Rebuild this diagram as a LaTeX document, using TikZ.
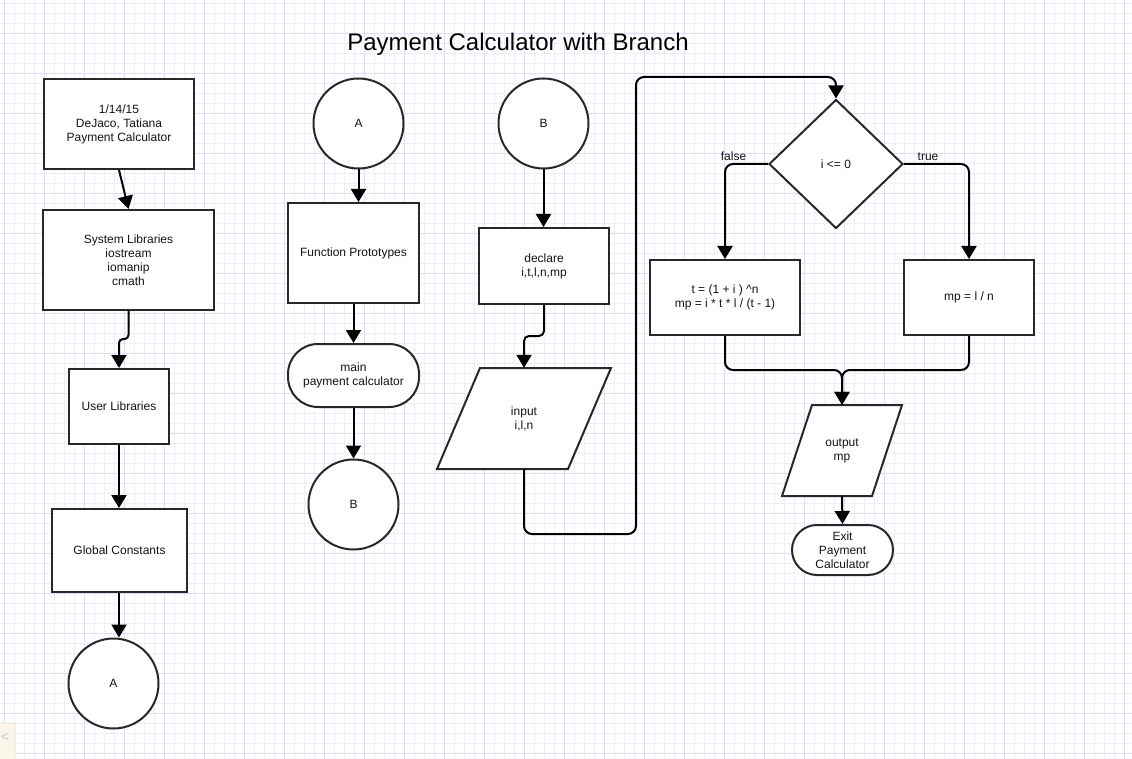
\documentclass[tikz,border=0pt]{standalone}
\usepackage{fontspec}
\setmainfont{Liberation Sans}
\usetikzlibrary{arrows.meta,shapes.geometric}
\definecolor{gridminor}{RGB}{237,237,254}
\definecolor{gridmajor}{RGB}{222,222,251}
\definecolor{shapeline}{RGB}{40,40,40}
\definecolor{txt}{RGB}{20,20,20}
\definecolor{widgetfill}{RGB}{251,246,232}
\definecolor{widgetline}{RGB}{225,220,205}
\definecolor{widgettext}{RGB}{190,190,225}
\tikzset{
  base/.style={draw=shapeline, line width=2pt, fill=white, text=txt, align=center,
    font=\fontsize{12}{14}\selectfont, inner sep=0pt},
  procbox/.style={base, rectangle},
  conn/.style={circle, base},
  term/.style={base, rectangle},
  textonly/.style={text=txt, align=center, font=\fontsize{12}{14}\selectfont, inner sep=0pt},
  flow/.style={draw=black, line width=2pt, rounded corners=6pt, -{Triangle[width=15pt,length=13pt]}},
  minorline/.style={draw=gridminor, line width=0.8pt},
  majorline/.style={draw=gridmajor, line width=0.8pt},
  lbl/.style={text=txt, font=\fontsize{12}{14}\selectfont, inner sep=0pt}
}
\begin{document}
\begin{tikzpicture}[x=1pt,y=-1pt]
\useasboundingbox (0,0) rectangle (1132,759);
\fill[white] (0,0) rectangle (1132,759);
% grid
\foreach \x in {4,14,...,1134} \draw[minorline] (\x,0) -- (\x,759);
\foreach \y in {3,13,...,763} \draw[minorline] (0,\y) -- (1132,\y);
\foreach \x in {4,44,...,1134} \draw[majorline] (\x,0) -- (\x,759);
\foreach \y in {33,73,...,763} \draw[majorline] (0,\y) -- (1132,\y);

% title
\node[text=black, font=\fontsize{24}{28}\selectfont, inner sep=0pt] (title) at (518,44) {Payment Calculator with Branch};

% column 1
\node[procbox, minimum width=150pt, minimum height=90pt] (hdr) at (119,124) {1/14/15\\DeJaco, Tatiana\\Payment Calculator};
\node[procbox, minimum width=171pt, minimum height=100pt] (sys) at (128.5,260) {System Libraries\\iostream\\iomanip\\cmath};
\node[procbox, minimum width=100pt, minimum height=75pt] (usr) at (119,406.5) {User Libraries};
\node[procbox, minimum width=135pt, minimum height=83pt] (glob) at (119.5,550.5) {Global Constants};
\node[conn, minimum size=90pt] (cA1) at (113.5,683.5) {A};

% column 2
\node[conn, minimum size=90pt] (cA2) at (358.5,123.5) {A};
\node[procbox, minimum width=131pt, minimum height=100pt] (fp) at (353.5,253) {Function Prototypes};
\node[term, rounded corners=30pt, minimum width=131pt, minimum height=63pt] (mainT) at (353.5,375.5) {main\\payment calculator};
\node[conn, minimum size=90pt] (cB2) at (353.5,504.5) {B};

% column 3
\node[conn, minimum size=90pt] (cB3) at (543.5,123.5) {B};
\node[procbox, minimum width=130pt, minimum height=76pt] (decl) at (544,266) {declare\\i,t,l,n,mp};
\coordinate (inpC) at (524,418.5);
\draw[draw=shapeline, line width=2pt, fill=white] (480,368) -- (611,368) -- (568,469) -- (437,469) -- cycle;
\node[textonly, minimum width=131pt, minimum height=101pt] (inp) at (inpC) {input\\i,l,n};

% decision
\node[base, diamond, minimum width=134pt, minimum height=129pt] (dia) at (836,164) {i <= 0};
\node[procbox, minimum width=150pt, minimum height=75pt] (tbox) at (725,297.5) {t = (1 + i ) \^{}n\\mp = i * t * l / (t - 1)};
\node[procbox, minimum width=130pt, minimum height=75pt] (mpbox) at (969,297.5) {mp = l / n};

% output
\draw[draw=shapeline, line width=2pt, fill=white] (812,405) -- (902,405) -- (872,496) -- (782,496) -- cycle;
\node[textonly, minimum width=90pt, minimum height=91pt] (outp) at (842,450.5) {output\\mp};
\node[term, rounded corners=25pt, minimum width=101pt, minimum height=50pt] (exitT) at (842.5,550) {Exit\\Payment\\Calculator};

% labels
\node[lbl, anchor=base] (lf) at (733.5,161) {false};
\node[lbl, anchor=base] (lt) at (928,161) {true};

% connectors column 1
\draw[flow] (hdr.south) -- (sys.north);
\draw[flow, rounded corners=4pt] (sys.south) -- (128.5,339) -- (119,339) -- (usr.north);
\draw[flow] (usr.south) -- (usr.south |- glob.north);
\draw[flow] (usr.south |- glob.south) -- (usr.south |- cA1.north);

% connectors column 2
\draw[flow] (cA2.south) -- (cA2.south |- fp.north);
\draw[flow] (fp.south) -- (mainT.north);
\draw[flow] (mainT.south) -- (cB2.north);

% connectors column 3
\draw[flow] (cB3.south) -- (cB3.south |- decl.north);
\draw[flow, rounded corners=5pt] (decl.south) -- (544,336) -- (524,336) -- (inp.north);
\draw[flow, rounded corners=8pt] (inp.south) -- (524,534) -- (636,534) -- (636,77) -- (836,77) -- (dia.north);

% decision branches
\draw[flow, rounded corners=8pt] (dia.west) -| (tbox.north);
\draw[flow, rounded corners=8pt] (dia.east) -| (mpbox.north);
\draw[flow, rounded corners=8pt] (tbox.south) -- (725,370) -- (842,370) -- (outp.north);
\draw[flow, rounded corners=8pt] (mpbox.south) -- (969,370) -- (842,370) -- (outp.north);
\draw[flow] (outp.south) -- (exitT.north);

% corner widget
\draw[draw=widgetline, fill=widgetfill, line width=0.8pt, rounded corners=2pt] (-2,723) -- (15,723) -- (15,762) -- (-2,762);
\node[text=widgettext, font=\fontsize{14}{14}\selectfont, inner sep=0pt] (wg) at (5,737) {<};
\end{tikzpicture}
\end{document}
